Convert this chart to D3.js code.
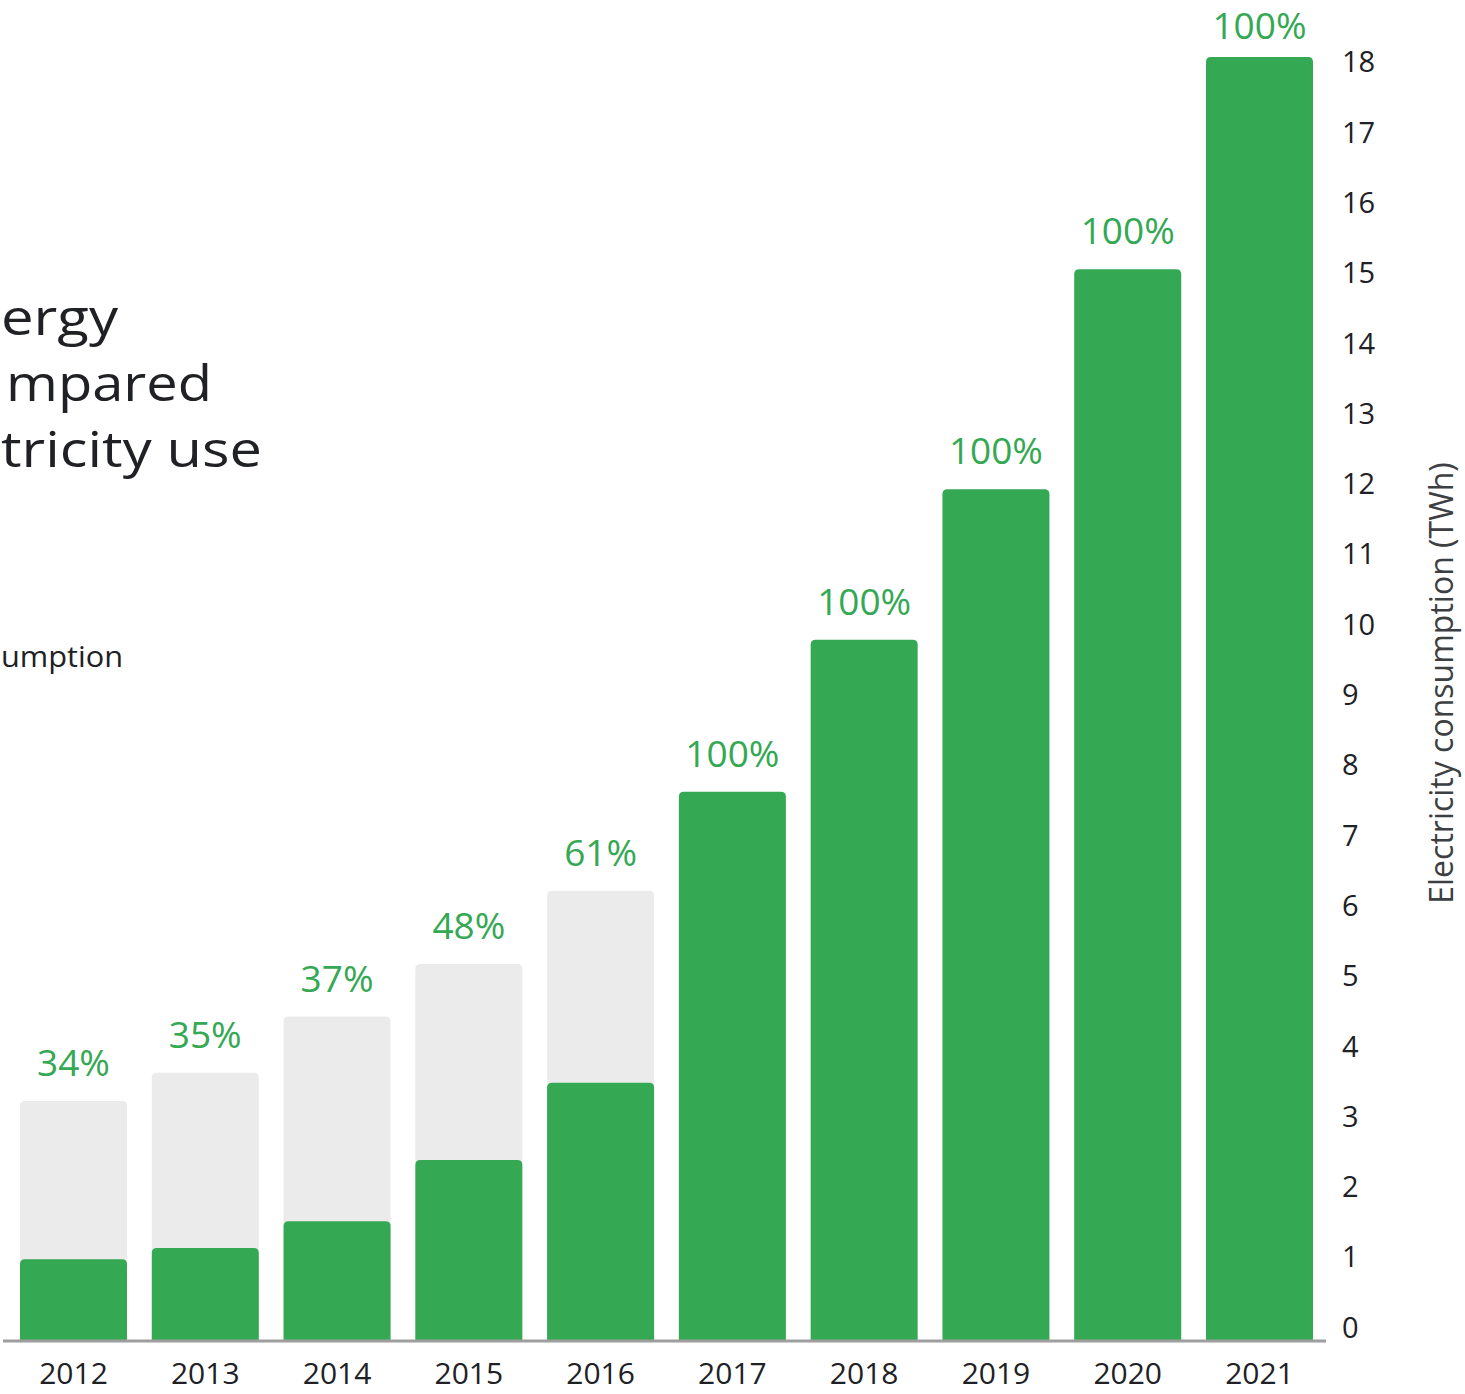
<!DOCTYPE html>
<html>
<head>
<meta charset="utf-8">
<script src="https://cdn.jsdelivr.net/npm/d3@7"></script>
<style>
  body { margin: 0; background: #fff; overflow: hidden; }
  svg { display: block; font-family: "Open Sans", Roboto, sans-serif; }
</style>
</head>
<body>
<div id="chart"></div>
<script>
const years = ['2012', '2013', '2014', '2015', '2016', '2017', '2018', '2019', '2020', '2021'];
const totalUse = [3.4, 3.8, 4.6, 5.35, 6.39, 7.8, 9.96, 12.1, 15.23, 18.25];   // TWh
const renewable = [1.15, 1.31, 1.69, 2.56, 3.66, 7.8, 9.96, 12.1, 15.23, 18.25]; // TWh matched
const shareLabels = ['34%', '35%', '37%', '48%', '61%', '100%', '100%', '100%', '100%', '100%'];
const yTicks = d3.range(0, 19);
// the title and legend are cropped at the left edge of the original picture
const titleLines = ['ergy', 'mpared', 'tricity use'];
const legendText = 'umption';

const GREEN = '#34a853';
const GREY = '#ebebeb';
const TEXT = '#202124';

const width = 1465, height = 1394;
const BASE = 1340;

const svg = d3.select('#chart').append('svg')
  .attr('width', width)
  .attr('height', height);

const x = d3.scaleBand()
  .domain(years)
  .range([20, 1313])
  .paddingInner(0.188)
  .paddingOuter(0);

const y = d3.scaleLinear()
  .domain([0, 18])
  .range([BASE, BASE - 18 * 70.3]);

// rect with rounded top corners only
function topRounded(x0, y0, w, h, r) {
  r = Math.min(r, h, w / 2);
  return 'M' + x0 + ',' + (y0 + h) +
    'V' + (y0 + r) +
    'Q' + x0 + ',' + y0 + ' ' + (x0 + r) + ',' + y0 +
    'H' + (x0 + w - r) +
    'Q' + (x0 + w) + ',' + y0 + ' ' + (x0 + w) + ',' + (y0 + r) +
    'V' + (y0 + h) + 'Z';
}

const rows = years.map((yr, i) => ({ year: yr, total: totalUse[i], green: renewable[i], label: shareLabels[i] }));

// title
svg.append('g').selectAll('text')
  .data(titleLines)
  .enter().append('text')
  .attr('x', (d, i) => [1, 6, 1][i])
  .attr('y', (d, i) => 335 + i * 66)
  .attr('textLength', (d, i) => [117, 206, 261][i])
  .attr('lengthAdjust', 'spacingAndGlyphs')
  .attr('font-size', 50)
  .attr('fill', TEXT)
  .text(d => d);

svg.append('text')
  .attr('x', 1)
  .attr('y', 667)
  .attr('textLength', 122)
  .attr('lengthAdjust', 'spacingAndGlyphs')
  .attr('font-size', 30)
  .attr('fill', TEXT)
  .text(legendText);

// grey = total consumption, green = renewable purchases
const bars = svg.append('g');
bars.selectAll('path.total')
  .data(rows.filter(d => d.green < d.total))
  .enter().append('path')
  .attr('class', 'total')
  .attr('fill', GREY)
  .attr('d', d => topRounded(x(d.year), y(d.total), x.bandwidth(), BASE - y(d.total), 5));

bars.selectAll('path.green')
  .data(rows)
  .enter().append('path')
  .attr('class', 'green')
  .attr('fill', GREEN)
  .attr('d', d => topRounded(x(d.year), y(d.green), x.bandwidth(), BASE - y(d.green), 5));

// share labels above the bars (kept inside the top edge)
svg.append('g').selectAll('text')
  .data(rows)
  .enter().append('text')
  .attr('x', d => x(d.year) + x.bandwidth() / 2)
  .attr('y', d => Math.max(y(d.total) - 25, 39))
  .attr('text-anchor', 'middle')
  .attr('font-size', 37)
  .attr('fill', GREEN)
  .text(d => d.label);

// baseline
svg.append('line')
  .attr('x1', 3).attr('x2', 1326)
  .attr('y1', BASE + 1).attr('y2', BASE + 1)
  .attr('stroke', '#9e9e9e')
  .attr('stroke-width', 3);

// year labels
const xAxis = svg.append('g')
  .attr('transform', 'translate(0,' + BASE + ')')
  .call(d3.axisBottom(x).tickSize(0).tickPadding(23))
  .attr('font-family', null)
  .attr('font-size', 30);
xAxis.select('.domain').remove();
xAxis.selectAll('text').attr('fill', TEXT);

// value axis on the right
const yAxis = svg.append('g')
  .attr('transform', 'translate(1342,-12)')
  .call(d3.axisRight(y).tickValues(yTicks).tickSize(0).tickPadding(0).tickFormat(d3.format('d')))
  .attr('font-family', null)
  .attr('font-size', 29);
yAxis.select('.domain').remove();
yAxis.selectAll('text').attr('fill', TEXT);

svg.append('text')
  .attr('transform', 'translate(1453,683) rotate(-90)')
  .attr('text-anchor', 'middle')
  .attr('font-size', 32)
  .attr('fill', '#3c4043')
  .text('Electricity consumption (TWh)');
</script>
</body>
</html>
